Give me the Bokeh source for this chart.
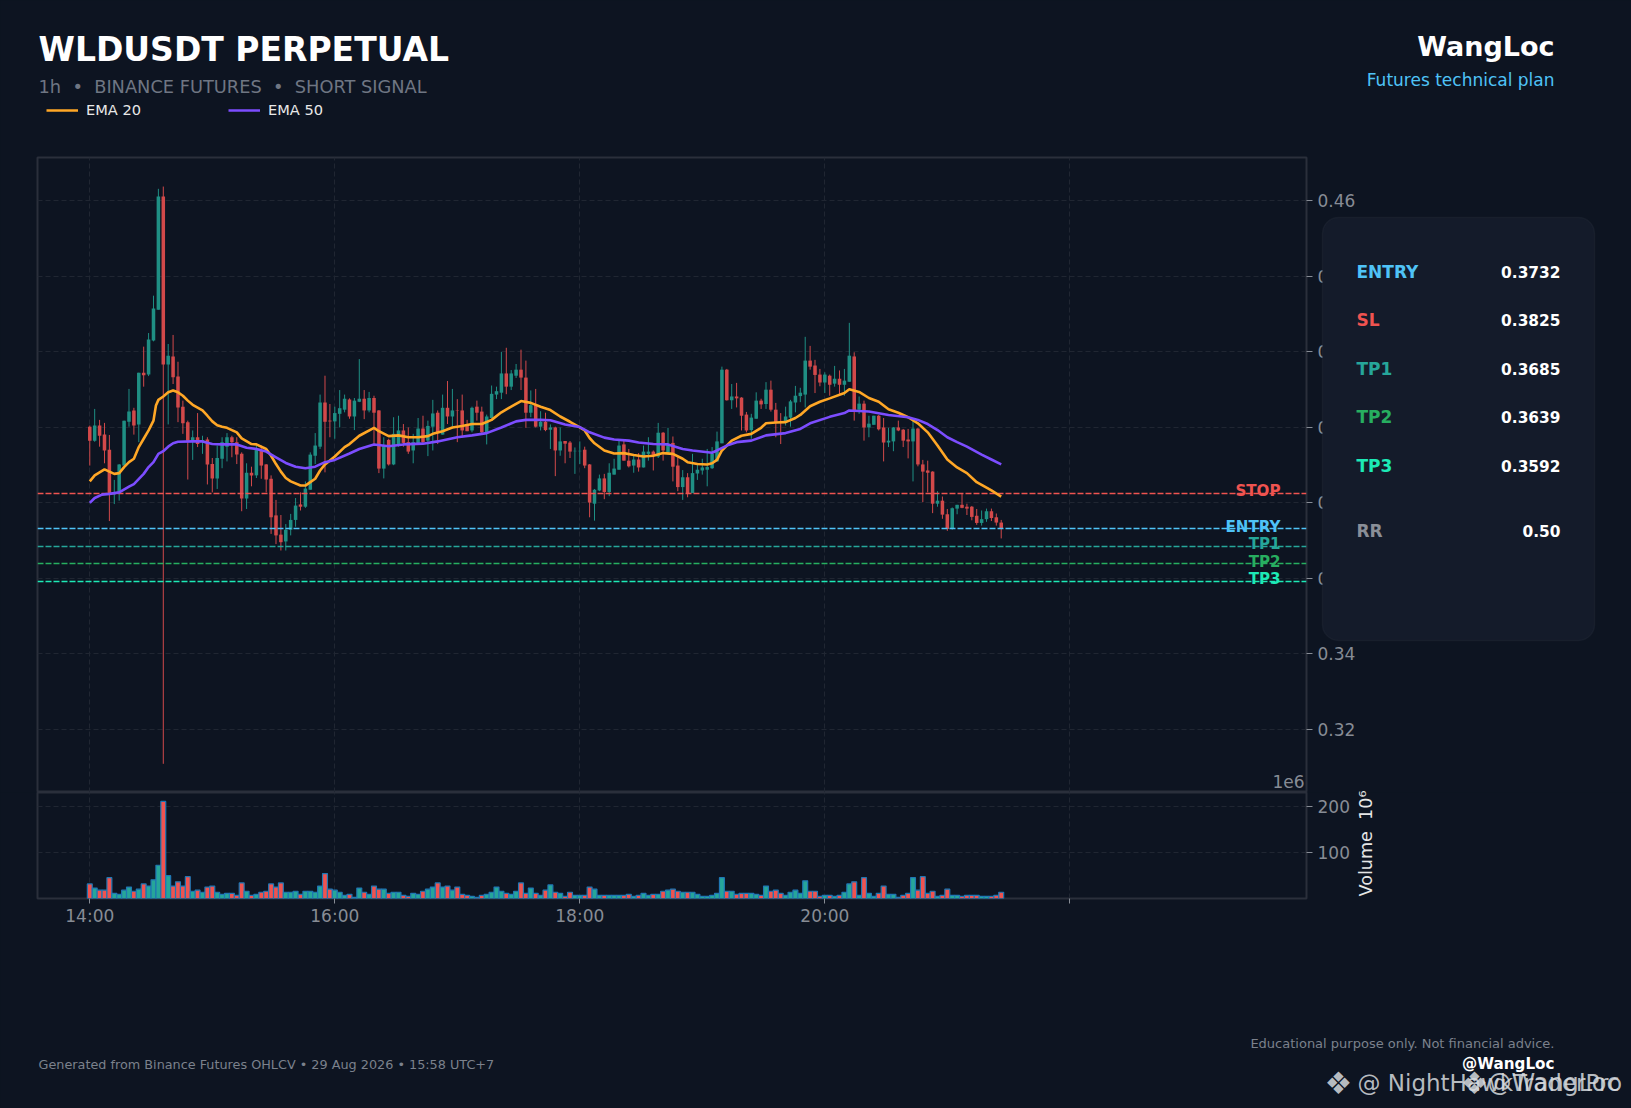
from math import pi
from bokeh.embed import file_html
from bokeh.resources import INLINE
from bokeh.plotting import figure
from bokeh.layouts import column
from bokeh.models import (Range1d, FixedTicker, Label, BoxAnnotation, Legend, LegendItem)

# ---------- data ----------
opens = [.4002,.3965,.4005,.3981,.3941,.3823,.3826,.3899,.4015,.4045,.4008,.4145,.4140,.4230,.4312,.4612,.4167,.4188,.4135,.4055,
 .4014,.3965,.3974,.3963,.3968,.3903,.3865,.3917,.3949,.3974,.3961,.3930,.3812,.3880,.3873,.3940,.3902,.3864,.3767,.3716,
 .3698,.3729,.3755,.3796,.3790,.3835,.3925,.3949,.4066,.4018,.4016,.4036,.4047,.4074,.4029,.4068,.4076,.4045,.4078,.4045,
 .3891,.3967,.3902,.3956,.3992,.3961,.3939,.3958,.3997,.3965,.4002,.4039,.3981,.4052,.4029,.4045,.4045,.4005,.3992,.4055,
 .4042,.3987,.4025,.4087,.4092,.4143,.4108,.4137,.4153,.4132,.4039,.4059,.4002,.4015,.3994,.4000,.3939,.3964,.3960,.3937,
 .3937,.3941,.3902,.3798,.3833,.3865,.3829,.3875,.3888,.3955,.3912,.3899,.3915,.3894,.3930,.3936,.3923,.3986,.3934,.3959,
 .3899,.3842,.3868,.3826,.3878,.3886,.3888,.3892,.3910,.3958,.4153,.4072,.4082,.4079,.4034,.3993,.4023,.4071,.4062,.4100,
 .4047,.4013,.4013,.4026,.4066,.4083,.4087,.4177,.4164,.4140,.4119,.4137,.4116,.4129,.4113,.4121,.4188,.4047,.4063,.4000,
 .4007,.4031,.4000,.3960,.3963,.4000,.3994,.3968,.3963,.3997,.3902,.3886,.3883,.3798,.3806,.3770,.3731,.3785,.3795,.3790,
 .3790,.3766,.3747,.3757,.3778,.3762,.3748]
highs = [.4005,.4049,.4020,.4012,.3980,.3861,.3903,.4018,.4102,.4052,.4145,.4214,.4250,.4349,.4632,.4638,.4221,.4245,.4174,.4071,
 .4018,.3992,.4038,.3978,.3974,.3919,.3952,.3974,.3985,.3978,.3974,.3934,.3905,.3896,.3952,.3952,.3903,.3873,.3808,.3768,
 .3744,.3771,.3813,.3828,.3857,.3934,.3985,.4087,.4137,.4062,.4055,.4099,.4087,.4077,.4078,.4181,.4099,.4094,.4084,.4046,
 .3974,.3970,.4027,.4031,.4009,.4000,.3983,.4025,.4031,.4018,.4073,.4045,.4087,.4123,.4102,.4075,.4087,.4020,.4055,.4071,
 .4055,.4034,.4111,.4108,.4200,.4211,.4152,.4168,.4206,.4177,.4098,.4102,.4043,.4039,.4008,.4002,.4000,.3964,.3964,.3947,
 .3963,.3949,.3903,.3837,.3875,.3877,.3905,.3917,.3965,.3965,.3943,.3925,.3932,.3952,.3974,.3939,.4012,.3988,.3999,.3976,
 .3921,.3887,.3879,.3930,.3903,.3917,.3943,.3948,.3989,.4161,.4155,.4115,.4118,.4080,.4041,.4036,.4093,.4076,.4120,.4124,
 .4065,.4038,.4055,.4073,.4110,.4105,.4240,.4216,.4179,.4155,.4146,.4140,.4163,.4151,.4155,.4277,.4199,.4082,.4071,.4031,
 .4031,.4033,.4025,.3999,.4001,.4018,.3996,.3996,.4018,.3999,.3914,.3912,.3884,.3831,.3817,.3784,.3788,.3795,.3825,.3798,
 .3792,.3784,.3780,.3785,.3785,.3772,.3755]
lows = [.3899,.3962,.3949,.3905,.3752,.3797,.3806,.3899,.4002,.3981,.3961,.4108,.4136,.4228,.4312,.3109,.4008,.4115,.4014,.3983,
 .3862,.3914,.3948,.3930,.3849,.3828,.3837,.3892,.3910,.3921,.3903,.3778,.3784,.3844,.3866,.3864,.3828,.3718,.3691,.3674,
 .3674,.3714,.3737,.3780,.3787,.3835,.3903,.3943,.3881,.3974,.3970,.4000,.4040,.4023,.3993,.4067,.4022,.4040,.3956,.3879,
 .3865,.3899,.3900,.3949,.3949,.3930,.3905,.3958,.3956,.3924,.3939,.3956,.3981,.4009,.4002,.3961,.3974,.3990,.3987,.4018,
 .3983,.3955,.4025,.4075,.4075,.4088,.4099,.4131,.4099,.3999,.4027,.4000,.3992,.3990,.3943,.3871,.3925,.3905,.3919,.3877,
 .3903,.3892,.3762,.3753,.3831,.3810,.3818,.3875,.3888,.3912,.3894,.3880,.3883,.3894,.3912,.3886,.3919,.3912,.3930,.3857,
 .3831,.3808,.3815,.3826,.3861,.3875,.3844,.3890,.3910,.3958,.4071,.4049,.4053,.3992,.3987,.3970,.4023,.4049,.4049,.4042,
 .3974,.3956,.4005,.4002,.4040,.4067,.4053,.4153,.4091,.4109,.4091,.4084,.4108,.4084,.4084,.4121,.4018,.4036,.3965,.3974,
 .4007,.3992,.3910,.3948,.3937,.3990,.3948,.3918,.3857,.3897,.3802,.3828,.3773,.3790,.3758,.3726,.3729,.3770,.3786,.3768,
 .3754,.3742,.3740,.3750,.3752,.3740,.3706]
closes = [.3965,.4005,.3978,.3939,.3824,.3826,.3902,.4018,.4042,.4005,.4145,.4138,.4233,.4315,.4612,.4167,.4190,.4133,.4053,.4011,
 .3965,.3974,.3956,.3967,.3902,.3865,.3919,.3961,.3974,.3961,.3928,.3812,.3880,.3873,.3940,.3899,.3862,.3762,.3714,.3696,
 .3729,.3755,.3793,.3790,.3838,.3928,.3952,.4066,.4015,.4016,.4038,.4051,.4076,.4029,.4071,.4076,.4045,.4078,.4039,.3891,
 .3952,.3902,.3983,.3992,.3959,.3936,.3961,.3997,.3961,.4004,.4037,.3985,.4052,.4029,.4045,.4044,.3992,.3990,.4052,.4039,
 .3987,.4029,.4089,.4096,.4143,.4108,.4143,.4153,.4132,.4039,.4059,.4002,.4015,.3993,.4000,.3939,.3963,.3957,.3936,.3938,
 .3938,.3899,.3801,.3835,.3865,.3829,.3880,.3891,.3952,.3912,.3897,.3915,.3894,.3936,.3936,.3925,.3986,.3939,.3956,.3896,
 .3842,.3868,.3826,.3879,.3888,.3894,.3895,.3930,.3963,.4153,.4072,.4082,.4077,.4031,.3992,.4026,.4071,.4061,.4100,.4047,
 .4013,.4012,.4029,.4069,.4084,.4092,.4177,.4161,.4139,.4119,.4140,.4113,.4129,.4113,.4124,.4190,.4045,.4063,.4000,.4010,
 .4031,.3995,.3960,.3965,.4000,.3992,.3965,.3963,.3997,.3902,.3883,.3880,.3798,.3806,.3769,.3731,.3786,.3795,.3787,.3785,
 .3763,.3747,.3757,.3778,.3760,.3748,.3732]
volumes = [31.6,22.6,18.1,18.1,45.2,11.3,9,18.1,24.9,15.8,20.3,31.6,27.1,40.7,72.3,211,49.7,27.1,36.2,27.1,
 47.5,15.8,18.1,13.6,24.9,27.1,13.6,9,11.3,11.3,6.8,33.9,15.8,6.8,9,13.6,15.8,31.6,24.9,33.9,
 13.6,13.6,15.8,9,15.8,15.8,13.6,27.1,54.2,20.3,18.1,13.6,6.8,9,2.3,22.6,13.6,9,27.1,20.3,
 20.3,11.3,13.6,13.6,6.8,4.5,11.3,9,15.8,20.3,24.9,33.9,24.9,27.1,18.1,24.9,9,6.8,4.5,2.3,
 6.8,9,13.6,24.9,15.8,11.3,9,15.8,33.9,11.3,22.6,11.3,6.8,18.1,29.4,13.6,11.3,4.5,13.6,6.8,
 6.8,6.8,24.9,20.3,6.8,6.8,6.8,6.8,6.8,6.8,9,4.5,6.8,11.3,6.8,9,9,15.8,18.1,20.3,
 15.8,13.6,13.6,13.6,9,4.5,4.5,6.8,11.3,45.2,15.8,15.8,9,11.3,11.3,11.3,9,6.8,27.1,15.8,
 18.1,11.3,6.8,13.6,18.1,11.3,38.4,15.8,15.8,4.5,6.8,6.8,4.5,6.8,13.6,31.6,36.2,6.8,45.2,11.3,
 4.5,11.3,27.1,9,9,2.3,6.8,11.3,45.2,18.1,47.5,11.3,15.8,4.5,6.8,20.3,6.8,6.8,4.5,6.8,
 6.8,6.8,4.5,4.5,4.5,6.8,13.6]
ema20_x = [0,1,3,4,5,6,7,8,9,10,11,12,13,13.5,14,15,16,17,18,19,20,21,23,24,25,26,27,28,30,31,33,34,36,37,38,39,40,41,43,44,45,46,47,48,50,52,53,55,58,59,61,63,65,67,69,70,72,74,76,78,80,82,84,86,88,90,92,94,96,98,100,101,102,103,105,107,109,111,113,115,117,119,121,122,124,126,127,128,129,131,133,135,137,138,140,142,144,145,147,149,151,154,155,157,159,161,163,165,167,169,171,173,175,177,179,181,182,184,186]
ema20_y = [.3857,.3873,.3889,.3883,.3877,.3879,.3895,.3908,.3917,.3948,.3970,.3992,.4018,.4058,.4073,.4082,.4093,.4098,.4093,.4084,.4071,.4060,.4045,.4031,.4016,.4006,.4002,.3999,.3987,.3971,.3956,.3955,.3943,.3925,.3903,.3883,.3866,.3857,.3846,.3846,.3855,.3864,.3886,.3902,.3923,.3948,.3956,.3978,.3999,.3990,.3977,.3979,.3974,.3974,.3977,.3983,.3990,.4000,.4004,.4009,.4009,.4020,.4040,.4055,.4070,.4065,.4055,.4046,.4029,.4015,.4000,.3992,.3972,.3958,.3939,.3931,.3932,.3927,.3923,.3925,.3932,.3930,.3917,.3908,.3903,.3902,.3905,.3914,.3939,.3965,.3978,.3983,.3999,.4011,.4013,.4014,.4025,.4033,.4056,.4068,.4077,.4091,.4101,.4094,.4078,.4068,.4048,.4039,.4027,.4011,.3987,.3952,.3915,.3894,.3879,.3855,.3848,.3833,.3817]
ema50_x = [0,1,2.5,4,6,8,9,11,12,13,14,15,16,17,18,21,23,25,27,30,32,34,36,38,40,42,44,46,48,50,53,55,58,61,64,68,71,75,78,81,84,87,89,92,94,97,100,102,105,107,110,112,115,118,121,123,127,128,130,132,135,138,142,145,147,151,154,155,159,163,167,169,171,173,175,177,179,182,184,186]
ema50_y = [.3800,.3813,.3822,.3824,.3828,.3843,.3850,.3877,.3895,.3908,.3930,.3937,.3949,.3958,.3962,.3963,.3963,.3956,.3955,.3955,.3946,.3943,.3936,.3921,.3906,.3896,.3892,.3896,.3908,.3914,.3931,.3943,.3955,.3950,.3955,.3957,.3963,.3974,.3979,.3985,.4000,.4016,.4020,.4020,.4019,.4008,.4001,.3987,.3973,.3968,.3965,.3960,.3956,.3955,.3943,.3939,.3933,.3939,.3952,.3961,.3965,.3979,.3985,.3996,.4011,.4028,.4038,.4045,.4042,.4033,.4027,.4020,.4009,.3993,.3974,.3961,.3949,.3928,.3915,.3902]
level_names = ["STOP","ENTRY","TP1","TP2","TP3"]
level_values = [.3825,.3732,.3685,.3639,.3592]
level_colors = ["#ef5350","#4fc3f7","#26a69a","#27ae60","#1de9b6"]
card_names = ["ENTRY","SL","TP1","TP2","TP3","RR"]
card_values = ["0.3732","0.3825","0.3685","0.3639","0.3592","0.50"]
card_colors = ["#4fc3f7","#ef5350","#26a69a","#27ae60","#1de9b6","#8a8f98"]
price_ticks = [.32,.34,.36,.38,.40,.42,.44,.46]
volume_ticks = [100,200]
time_ticks = [0,50,100,150,200]
time_labels = ["14:00","16:00","18:00","20:00",""]

BG = "#0d1421"; GRID = "#202632"; SPINE = "#2a2f3b"; TICK = "#878c95"
FONT = "DejaVu Sans"
WIDTH = 1631; HEIGHT = 1108
NB = "\u00a0"
x_rng = Range1d(-10.67, 248.3)

def base(h, top, bottom, yr):
    f = figure(width=WIDTH, height=h, x_range=x_rng, y_range=yr, y_axis_location="right",
               output_backend="svg", toolbar_location=None,
               min_border_left=37, min_border_right=325, min_border_top=top, min_border_bottom=bottom,
               background_fill_color=BG, border_fill_color=BG, outline_line_color=SPINE, outline_line_width=2)
    f.xgrid.ticker = FixedTicker(ticks=time_ticks)
    for g in (f.xgrid, f.ygrid):
        g.grid_line_color = GRID; g.grid_line_dash = "5 3"; g.grid_line_width = 1
    ax = f.yaxis[0]
    ax.axis_line_color = None; ax.major_tick_line_color = TICK; ax.major_tick_out = 6; ax.major_tick_in = 0
    ax.minor_tick_line_color = None; ax.major_label_text_color = TICK; ax.major_label_text_font = FONT
    ax.major_label_text_font_size = "17px"; ax.major_label_standoff = 5
    return f

def txt(f, x, y, s, size, color, bold=False, align="left", **kw):
    f.add_layout(Label(x=x, y=y, x_units="canvas", y_units="canvas", text=s, text_font=FONT,
                       text_font_size=f"{size}px", text_color=color, text_align=align,
                       text_baseline=kw.pop("baseline", "middle"),
                       text_font_style="bold" if bold else "normal", **kw))

# ---------- price panel ----------
p = base(792, 157, 0, Range1d(.3033, .4715))
p.xaxis.visible = False
p.yaxis[0].ticker = FixedTicker(ticks=price_ticks)
p.yaxis[0].major_label_overrides = {t: f"{t:.2f}" for t in price_ticks}
xs = list(range(len(opens)))
up = [c >= o for o, c in zip(opens, closes)]
body_col = ["#1f8f84" if u else "#d2494a" for u in up]
p.segment(xs, lows, xs, highs, color=body_col, line_width=1)
p.vbar(xs, width=0.72, top=[max(o, c) for o, c in zip(opens, closes)],
       bottom=[min(o, c) for o, c in zip(opens, closes)], fill_color=body_col, line_color=None)
for val, c in zip(level_values, level_colors):
    p.hspan(y=[val], line_color=c, line_width=1.7, line_dash="6 2")
p.line(ema20_x, ema20_y, line_color="#ffa726", line_width=2.6)
p.line(ema50_x, ema50_y, line_color="#7c4dff", line_width=2.6)
for name, val, c in zip(level_names, level_values, level_colors):
    p.add_layout(Label(x=1280, y=val, x_units="canvas", y_units="data", y_offset=2, text=name, text_font=FONT,
                       text_font_size="15.1px", text_font_style="bold", text_color=c,
                       text_align="right", text_baseline="middle"))
txt(p, 1304, 781, "1e6", 17, TICK, align="right")

# ---------- volume panel ----------
v = base(316, 0, 210, Range1d(0, 230.4))
v.yaxis[0].ticker = FixedTicker(ticks=volume_ticks)
xa = v.xaxis[0]
xa.ticker = FixedTicker(ticks=time_ticks)
xa.major_label_overrides = dict(zip(time_ticks, time_labels))
xa.axis_line_color = None; xa.major_tick_line_color = TICK; xa.major_tick_out = 5; xa.major_tick_in = 0
xa.minor_tick_line_color = None; xa.major_label_text_color = TICK; xa.major_label_text_font = FONT
xa.major_label_text_font_size = "17px"; xa.major_label_standoff = 2
v.vbar(xs, width=1.0, top=volumes, bottom=0, fill_color=["#26a69a" if u else "#ef5350" for u in up],
       line_color="#1f77b4", line_width=1.2)

# ---------- transparent sheet over both panels: header, legend, card, footer ----------
o = figure(width=WIDTH, height=HEIGHT, x_range=Range1d(0, WIDTH), y_range=Range1d(0, HEIGHT),
           x_axis_location=None, y_axis_location=None, output_backend="svg", toolbar_location=None,
           min_border=0, background_fill_alpha=0, border_fill_alpha=0, outline_line_color=None,
           margin=(-HEIGHT, 0, 0, 0))
o.grid.visible = False
txt(o, 38, 49, "WLDUSDT PERPETUAL", 33, "#ffffff", bold=True)
txt(o, 38, 86, f"1h{NB}{NB}\u2022{NB}{NB}BINANCE FUTURES{NB}{NB}\u2022{NB}{NB}SHORT SIGNAL", 17.8, "#6f7683")
txt(o, 1554, 46, "WangLoc", 27, "#ffffff", bold=True, align="right")
txt(o, 1554, 79, "Futures technical plan", 17, "#4fc3f7", align="right")
# legend swatches need a drawable line, placed outside the sheet's visible range
l20 = o.line([-50, -40], [-50, -40], line_color="#ffa726", line_width=2.6)
l50 = o.line([-50, -40], [-50, -40], line_color="#7c4dff", line_width=2.6)
o.add_layout(Legend(items=[LegendItem(label="EMA 20", renderers=[l20]), LegendItem(label="EMA 50", renderers=[l50])],
             location=(46, 990), orientation="horizontal", background_fill_alpha=0, border_line_alpha=0,
             margin=0, padding=0, spacing=87, glyph_width=32, glyph_height=10, label_standoff=8,
             label_text_font=FONT, label_text_font_size="14.6px", label_text_color="#e8e8e8"), "center")
o.add_layout(BoxAnnotation(left=1322, right=1594, top=217, bottom=640, left_units="canvas", right_units="canvas",
                           top_units="canvas", bottom_units="canvas", fill_color="#141b2a", fill_alpha=1,
                           line_color="#2b3240", line_width=1.5, border_radius=16))
card_y = [271, 319.5, 368, 416.5, 465.5, 530]
for y, n, val, c in zip(card_y, card_names, card_values, card_colors):
    txt(o, 1356, y, n, 17, c, bold=True)
    txt(o, 1560, y, val, 15.4, "#ffffff", bold=True, align="right")
o.add_layout(Label(x=1365, y=843, x_units="canvas", y_units="canvas", text=f"Volume{NB}{NB}10\u2076", angle=pi/2,
                   text_font=FONT, text_font_size="17.6px", text_color="#e6e6e6",
                   text_align="center", text_baseline="middle"))
txt(o, 38, 1064, "Generated from Binance Futures OHLCV \u2022 29 Aug 2026 \u2022 15:58 UTC+7", 12.8, "#7b818c")
txt(o, 1554, 1043, "Educational purpose only. Not financial advice.", 13, "#7b818c", align="right")
txt(o, 1554, 1063, "@WangLoc", 15.2, "#ffffff", bold=True, align="right")
WM = "#d6dade"
txt(o, 1338, 1082, "\u2756", 31, WM, align="center", text_alpha=0.85)
txt(o, 1357, 1082, "@ NightHawkTraderPro", 23, WM, text_alpha=0.85)
txt(o, 1474, 1082, "\u2756", 31, WM, align="center", text_alpha=0.85)
txt(o, 1487, 1082, "@WangLoc", 24, WM, text_alpha=0.85)

page = column(column(p, v, spacing=0), o, spacing=0)
html = file_html(page, INLINE)
html = html.replace("<head>", "<head><style>html,body{background:#0d1421;overflow:hidden;}</style>", 1)
open("out.html", "w").write(html)
